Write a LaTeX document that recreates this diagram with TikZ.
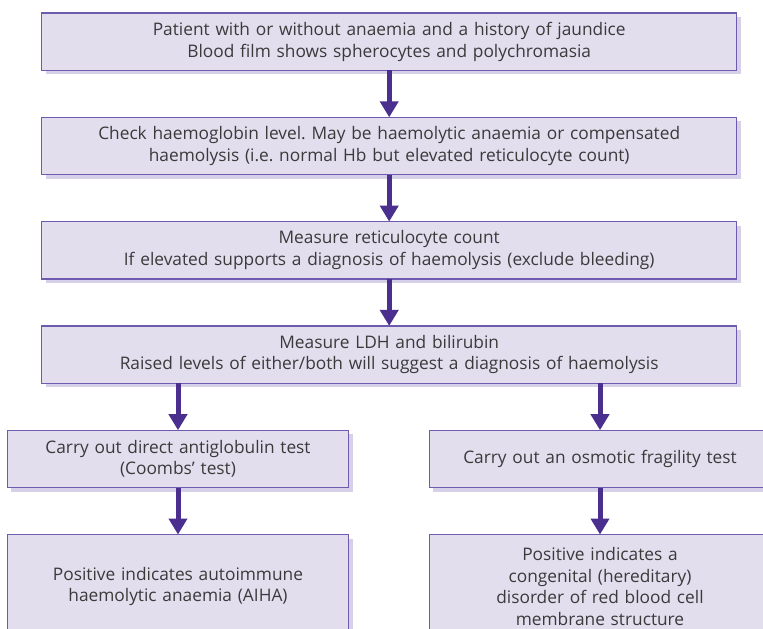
\documentclass[tikz,border=0pt]{standalone}
\usepackage{fontspec}
\setmainfont{Open Sans}
\frenchspacing
\usetikzlibrary{positioning}
\usetikzlibrary{arrows.meta}
\usetikzlibrary{shadows}
\definecolor{boxfill}{HTML}{E2DEEE}
\definecolor{boxline}{HTML}{6E5BB0}
\definecolor{boxshade}{HTML}{D6D1E8}
\definecolor{flowline}{HTML}{4A2F8F}
\definecolor{boxtext}{HTML}{3A3A3A}
\tikzset{stage/.style={rectangle, draw=boxline, line width=1.2pt, fill=boxfill, text=boxtext, inner sep=4pt, outer sep=0pt, minimum height=57.3pt, align=center, font=\fontsize{17.3}{21.8}\selectfont, drop shadow={shadow xshift=4pt, shadow yshift=-4pt, fill=boxshade, opacity=1}}}
\tikzset{wide/.style={stage, text width=687pt}}
\tikzset{half/.style={stage, text width=333.4pt}}
\tikzset{flow/.style={draw=flowline, line width=5pt, -{Triangle[width=18pt, length=16pt]}}}

\begin{document}
\begin{tikzpicture}[x=1pt, y=-1pt]
    \path[use as bounding box] (0,0) rectangle (763,629);
    \clip (0,0) rectangle (763,629);

    \node [wide] (history) at (389.2,41.65) {Patient with or without anaemia and a history of jaundice\\Blood film shows spherocytes and polychromasia};
    \node [wide, below=47pt of history] (haemoglobin) {Check haemoglobin level. May be haemolytic anaemia or compensated\\haemolysis (i.e. normal Hb but elevated reticulocyte count)};
    \node [wide, below=47pt of haemoglobin] (retic) {Measure reticulocyte count\\If elevated supports a diagnosis of haemolysis (exclude bleeding)};
    \node [wide, below=47pt of retic] (ldh) {Measure LDH and bilirubin\\Raised levels of either/both will suggest a diagnosis of haemolysis};

    % the two branches
    \node [half, below=47pt of ldh.south, xshift=-211.2pt] (coombs) {Carry out direct antiglobulin test\\(Coombs’ test)};
    \node [half, below=47pt of ldh.south, xshift=210.8pt] (osmotic) {Carry out an osmotic fragility test};
    \node [half, minimum height=104pt, below=47pt of coombs] (aiha) {Positive indicates autoimmune\\haemolytic anaemia (AIHA)};
    \node [half, minimum height=104pt, below=47pt of osmotic] (membrane) {Positive indicates a\\congenital (hereditary)\\disorder of red blood cell\\membrane structure};

    \draw [flow] (history) -- (haemoglobin);
    \draw [flow] (haemoglobin) -- (retic);
    \draw [flow] (retic) -- (ldh);
    \draw [flow] (ldh.south -| coombs.north) -- (coombs.north);
    \draw [flow] (ldh.south -| osmotic.north) -- (osmotic.north);
    \draw [flow] (coombs) -- (aiha);
    \draw [flow] (osmotic) -- (membrane);

\end{tikzpicture}
\end{document}
